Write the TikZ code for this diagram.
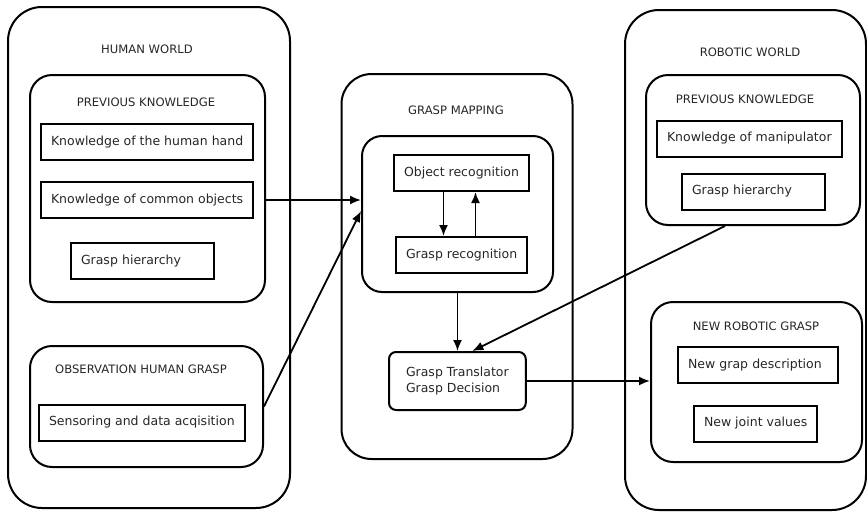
\documentclass[tikz,border=0pt]{standalone}
\usepackage{fontspec}
\setmainfont{DejaVu Sans}
\usepackage{tikz}
\usetikzlibrary{arrows.meta}
\usetikzlibrary{positioning}
\tikzset{world/.style={draw,line width=2pt,rounded corners=34pt},
         group/.style={draw,line width=2pt,rounded corners=22pt},
         title/.style={font=\fontsize{11.6}{14}\selectfont,text=black!85},
         item/.style={draw,line width=2pt,anchor=west,align=left,
           inner xsep=10pt,minimum height=36pt,
           font=\fontsize{12.5}{17}\selectfont,text=black!85},
         link/.style={->,line width=1.8pt},
         >={Latex[length=11pt,width=9pt]}}

\begin{document}
\begin{tikzpicture}[x=1pt,y=-1pt]
    \useasboundingbox (0,0) rectangle (867,512);

    % human world
    \node[world, minimum width=282, minimum height=501] (human) at (149,257.5) {};
    \node[group, minimum width=235, minimum height=227] (hprev) at (147.5,188.5) {};
    \node[group, minimum width=233, minimum height=121] (hobs) at (146.5,406.5) {};
    \node[title] (thuman) at (147,49) {HUMAN WORLD}; \node[title] (thprev)
    at (146,102) {PREVIOUS KNOWLEDGE}; \node[title] (thobs) at (141,369)
    {OBSERVATION HUMAN GRASP};
    \node[item] (hhand) at (40,142) {Knowledge of the human hand};
    \node[item] (hcommon) at (40,200) {Knowledge of common objects};
    \node[item, text width=123] (hhier) at (70,261) {Grasp hierarchy};
    \node[item] (hsens) at (38,422.5) {Sensoring and data acqisition};

    % grasp mapping
    \node[world, rounded corners=30pt, minimum width=231, minimum height=385] (gmap) at (457,266.5) {};
    \node[group, rounded corners=20pt, minimum width=191, minimum height=156] (ginner) at (457.5,214) {};
    \node[title] (tgmap) at (456,110) {GRASP MAPPING};
    \node[item] (obj) at (393,173) {Object recognition}; \node[item]
    (grec) at (395,255) {Grasp recognition};
    \node[item, rounded corners=7pt, inner xsep=17pt, minimum height=58,
    font=\fontsize{12.5}{16.5}\selectfont] (trans) at (388,381)
    {Grasp Translator\\Grasp Decision};

    % robotic world
    \node[world, minimum width=241, minimum height=500] (robot) at (745.5,260) {};
    \node[group, minimum width=214, minimum height=150] (rprev) at (753,150) {};
    \node[group, minimum width=211, minimum height=160] (rnew) at (756.5,382) {};
    \node[title] (trobot) at (750,52) {ROBOTIC WORLD}; \node[title] (trprev)
    at (745,99) {PREVIOUS KNOWLEDGE}; \node[title] (trnew) at (756,326)
    {NEW ROBOTIC GRASP};
    \node[item] (rman) at (656,138.5) {Knowledge of manipulator};
    \node[item, text width=123] (rhier) at (681,191.5) {Grasp hierarchy};
    \node[item, text width=140] (rdesc) at (677,365) {New grap description};
    \node[item] (rjoint) at (693,423.5) {New joint values};

    \draw[link] (hprev.east |- hcommon) -- (ginner.west |- hcommon);
    \draw[link] (hobs.east) -- ([yshift=3]ginner.west);
    \draw[link] ([xshift=-18]obj.south) -- ([xshift=-18]obj.south |- grec.north);
    \draw[link] ([xshift=14]obj.south |- grec.north) -- ([xshift=14]obj.south);
    \draw[link] (ginner.south) -- (ginner.south |- trans.north);
    \draw[link] ([xshift=-28]rprev.south) -- ([xshift=15]trans.north);
    \draw[link] (trans.east) -- (trans.east -| rnew.west);

  \end{tikzpicture}
\end{document}
